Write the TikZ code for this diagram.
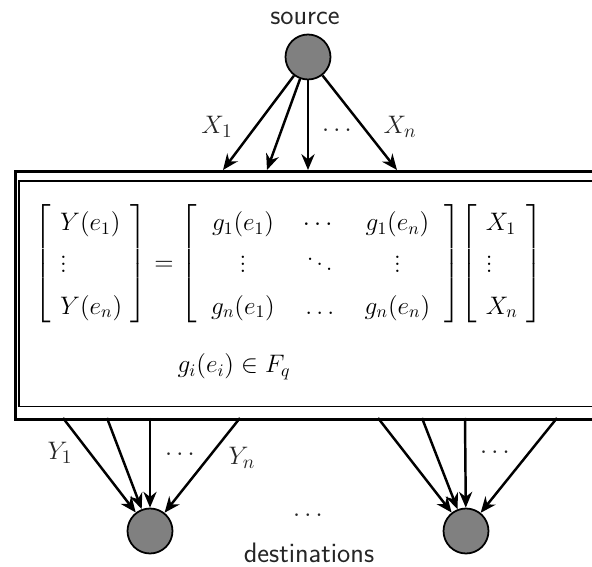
\documentclass[tikz,border=0pt]{standalone}
\usepackage{amsmath}
\usepackage{amssymb}
\usetikzlibrary{arrows.meta}

\tikzset{
  vertex/.style={circle, draw, line width=1pt, fill=black!50, minimum size=0.9cm, inner sep=0pt},
  edge/.style={line width=1.4pt, -{Stealth[length=9pt,width=7.5pt]}},
  lbl/.style={text=black!85, font=\fontsize{15}{18}\selectfont},
  word/.style={text=black!85, font=\sffamily\fontsize{16}{19}\selectfont},
}
\newcommand{\colvec}[1]{\setlength{\arraycolsep}{5pt}\left[\begin{array}{l}#1\end{array}\right]}

\begin{document}
\begin{tikzpicture}[x=0.02cm, y=-0.02cm]
    \useasboundingbox (0,0) rectangle (592,567);
    \clip (0,0) rectangle (592,567);
    % coding box
    \node[draw, line width=1.7pt, minimum width=12cm, minimum
      height=4.96cm, anchor=north west, inner sep=0pt] (net) at (14,170) {};
    \draw[line width=0.6pt] ([shift={(5,11)}]net.north west) rectangle
      ([shift={(-5,-14)}]net.south east);
    \node (eq) at (289,264) {\fontsize{14}{17}\selectfont
      \renewcommand{\arraystretch}{1.4}%
      $\colvec{Y(e_1)\\ \vdots\\ Y(e_n)} = \setlength{\arraycolsep}{8pt}
      \left[\begin{array}{ccc} g_1(e_1) & \cdots & g_1(e_n)\\ \vdots &
        \ddots & \vdots\\ g_n(e_1) & \ldots & g_n(e_n)\end{array}\right]
      \!\colvec{X_1\\ \vdots\\ X_n}$};
    \node (fq) at (234,367) {\fontsize{14}{17}\selectfont $g_i(e_i)\in
      F_q$};
    % source
    \node[vertex] (src) at (308,57) {}; \node[word] (srclbl) at (305,18)
    {source};
    \foreach \x [count=\i] in {223,267,308,397} {
      \coordinate (x\i) at (\x,170); \draw[edge] (src) -- (x\i); }
    \node[lbl] (lx1) at (217,127) {$X_1$}; \node[lbl] (ldx) at (339,131)
    {$\cdots$}; \node[lbl] (lxn) at (400,127) {$X_n$};
    % destinations
    \node[vertex] (d1) at (150,531) {}; \node[vertex] (d2) at (466,531)
    {};
    \foreach \x [count=\i] in {63,107,150,240} {
      \coordinate (y\i) at (\x,418); \draw[edge] (y\i) -- (d1); }
    \foreach \x [count=\i] in {378,422,465,557} {
      \coordinate (z\i) at (\x,418); \draw[edge] (z\i) -- (d2); }
    \node[lbl] (ly1) at (60,453) {$Y_1$}; \node[lbl] (ldy) at (182,455)
    {$\cdots$}; \node[lbl] (lyn) at (242,458) {$Y_n$}; \node[lbl] (ldz)
    at (497,453) {$\cdots$};
    \node[lbl] (ldd) at (310,516) {$\cdots$}; \node[word] (dstlbl) at
    (309,553) {destinations};
  \end{tikzpicture}
\end{document}
